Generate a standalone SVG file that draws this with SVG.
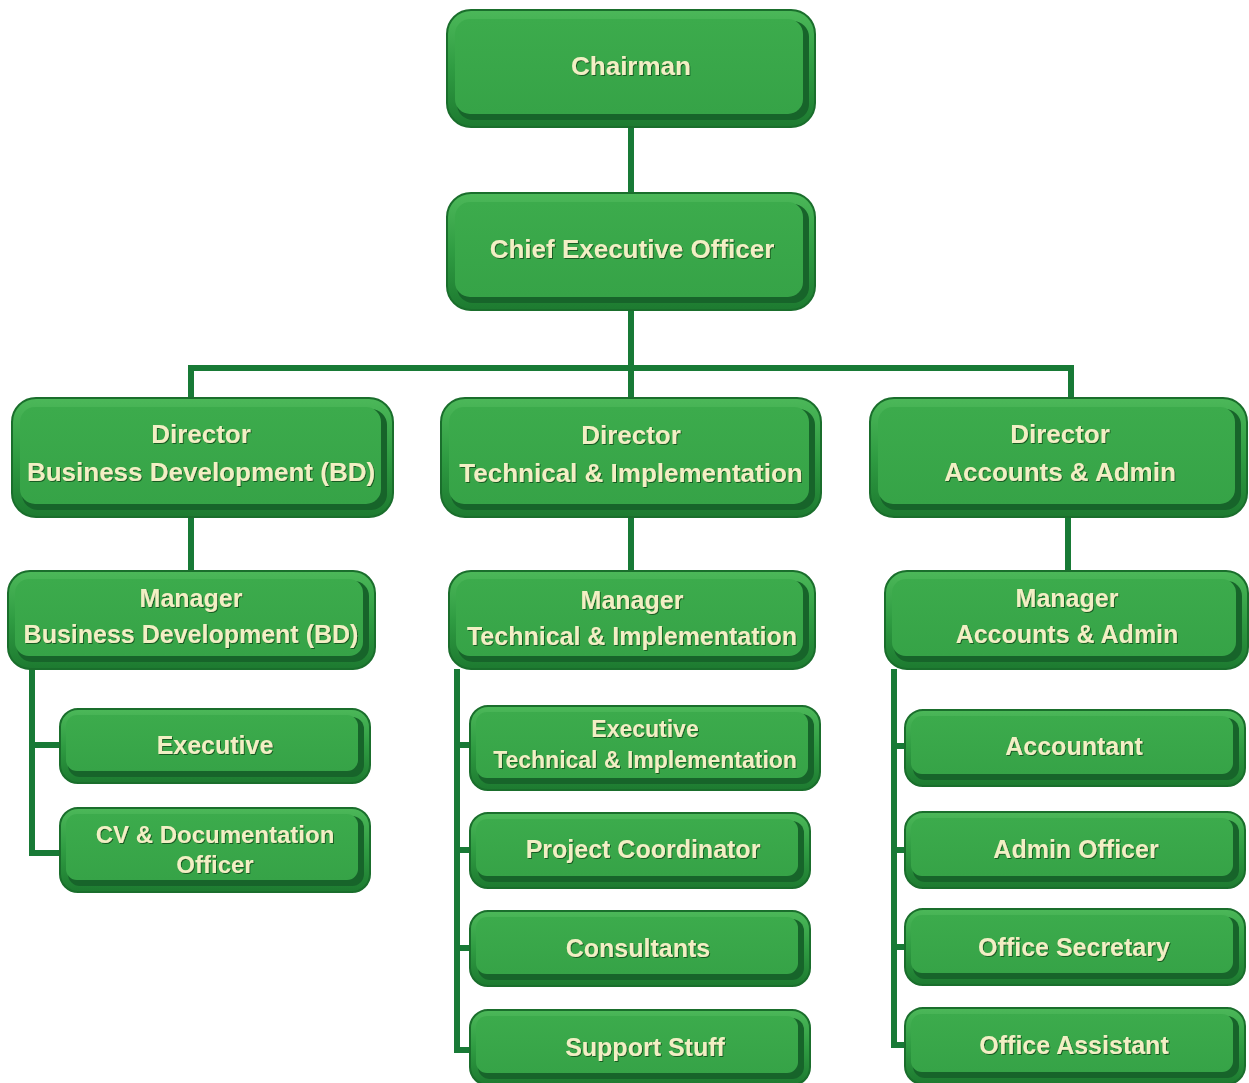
<svg xmlns="http://www.w3.org/2000/svg" width="1249" height="1083" viewBox="0 0 1249 1083">
<defs>
<linearGradient id="rim" x1="0" y1="0" x2="0" y2="1">
<stop offset="0" stop-color="#4cb859"/>
<stop offset="0.5" stop-color="#2f9c42"/>
<stop offset="1" stop-color="#1d7a30"/>
</linearGradient>
<linearGradient id="face" x1="0" y1="0" x2="0" y2="1">
<stop offset="0" stop-color="#3cab4c"/>
<stop offset="1" stop-color="#36a347"/>
</linearGradient>
<filter id="ts" x="-10%" y="-30%" width="120%" height="160%">
<feDropShadow dx="1" dy="1" stdDeviation="0.6" flood-color="#0d4a1a" flood-opacity="0.8"/>
</filter>
</defs>
<style>
.o{fill:url(#rim);stroke:#1a6e2c;stroke-width:2}
.s{fill:#17642a}
.f{fill:url(#face)}
.t{font-family:"Liberation Sans",Arial,sans-serif;font-weight:bold;fill:#f2efc4;text-anchor:middle;filter:url(#ts)}
.c{fill:none;stroke:#187a36;stroke-width:6;stroke-linejoin:miter}
</style>
<rect width="1249" height="1083" fill="#ffffff"/>
<g id="connectors">
<path class="c" d="M631 127V193M631 310V400M191 400V368H1071V400M191 517V573M631 517V573M1068 517V573"/>
<path class="c" d="M32 669V853H62M32 745H62"/>
<path class="c" d="M457 669V1050H472M457 745H472M457 850H472M457 948H472"/>
<path class="c" d="M894 669V1045H907M894 746H907M894 850H907M894 947H907"/>
</g>
<g id="chairman">
<rect class="o" x="447" y="10" width="368" height="117" rx="24"/>
<rect class="s" x="457" y="21" width="352" height="99" rx="16"/>
<rect class="f" x="455" y="19" width="348" height="95" rx="15"/>
<text class="t" x="631" y="75" font-size="26">Chairman</text>
</g>
<g id="ceo">
<rect class="o" x="447" y="193" width="368" height="117" rx="24"/>
<rect class="s" x="457" y="204" width="352" height="99" rx="16"/>
<rect class="f" x="455" y="202" width="348" height="95" rx="15"/>
<text class="t" x="632" y="258" font-size="26">Chief Executive Officer</text>
</g>
<g id="dir-bd">
<rect class="o" x="12" y="398" width="381" height="119" rx="24"/>
<rect class="s" x="22" y="409" width="365" height="101" rx="16"/>
<rect class="f" x="20" y="407" width="361" height="97" rx="15"/>
<text class="t" x="201" y="443" font-size="26">Director</text>
<text class="t" x="201" y="481" font-size="26">Business Development (BD)</text>
</g>
<g id="dir-tech">
<rect class="o" x="441" y="398" width="380" height="119" rx="24"/>
<rect class="s" x="451" y="409" width="364" height="101" rx="16"/>
<rect class="f" x="449" y="407" width="360" height="97" rx="15"/>
<text class="t" x="631" y="444" font-size="26">Director</text>
<text class="t" x="631" y="482" font-size="26">Technical &amp; Implementation</text>
</g>
<g id="dir-acc">
<rect class="o" x="870" y="398" width="377" height="119" rx="24"/>
<rect class="s" x="880" y="409" width="361" height="101" rx="16"/>
<rect class="f" x="878" y="407" width="357" height="97" rx="15"/>
<text class="t" x="1060" y="443" font-size="26">Director</text>
<text class="t" x="1060" y="481" font-size="26">Accounts &amp; Admin</text>
</g>
<g id="mgr-bd">
<rect class="o" x="8" y="571" width="367" height="98" rx="22"/>
<rect class="s" x="17" y="581" width="352" height="81" rx="15"/>
<rect class="f" x="15" y="579" width="348" height="77" rx="14"/>
<text class="t" x="191" y="607" font-size="25">Manager</text>
<text class="t" x="191" y="643" font-size="25">Business Development (BD)</text>
</g>
<g id="mgr-tech">
<rect class="o" x="449" y="571" width="366" height="98" rx="22"/>
<rect class="s" x="458" y="581" width="351" height="81" rx="15"/>
<rect class="f" x="456" y="579" width="347" height="77" rx="14"/>
<text class="t" x="632" y="609" font-size="25">Manager</text>
<text class="t" x="632" y="645" font-size="25">Technical &amp; Implementation</text>
</g>
<g id="mgr-acc">
<rect class="o" x="885" y="571" width="363" height="98" rx="22"/>
<rect class="s" x="894" y="581" width="348" height="81" rx="15"/>
<rect class="f" x="892" y="579" width="344" height="77" rx="14"/>
<text class="t" x="1067" y="607" font-size="25">Manager</text>
<text class="t" x="1067" y="643" font-size="25">Accounts &amp; Admin</text>
</g>
<g id="executive">
<rect class="o" x="60" y="709" width="310" height="74" rx="18"/>
<rect class="s" x="68" y="717" width="296" height="60" rx="12"/>
<rect class="f" x="66" y="715" width="292" height="56" rx="11"/>
<text class="t" x="215" y="754" font-size="25">Executive</text>
</g>
<g id="cv-officer">
<rect class="o" x="60" y="808" width="310" height="84" rx="18"/>
<rect class="s" x="68" y="816" width="296" height="70" rx="12"/>
<rect class="f" x="66" y="814" width="292" height="66" rx="11"/>
<text class="t" x="215" y="843" font-size="24">CV &amp; Documentation</text>
<text class="t" x="215" y="873" font-size="24">Officer</text>
</g>
<g id="exec-tech">
<rect class="o" x="470" y="706" width="350" height="84" rx="18"/>
<rect class="s" x="478" y="714" width="336" height="70" rx="12"/>
<rect class="f" x="476" y="712" width="332" height="66" rx="11"/>
<text class="t" x="645" y="737" font-size="23">Executive</text>
<text class="t" x="645" y="768" font-size="23">Technical &amp; Implementation</text>
</g>
<g id="project-coordinator">
<rect class="o" x="470" y="813" width="340" height="75" rx="18"/>
<rect class="s" x="478" y="821" width="326" height="61" rx="12"/>
<rect class="f" x="476" y="819" width="322" height="57" rx="11"/>
<text class="t" x="643" y="858" font-size="25">Project Coordinator</text>
</g>
<g id="consultants">
<rect class="o" x="470" y="911" width="340" height="75" rx="18"/>
<rect class="s" x="478" y="919" width="326" height="61" rx="12"/>
<rect class="f" x="476" y="917" width="322" height="57" rx="11"/>
<text class="t" x="638" y="957" font-size="25">Consultants</text>
</g>
<g id="support-stuff">
<rect class="o" x="470" y="1010" width="340" height="75" rx="18"/>
<rect class="s" x="478" y="1018" width="326" height="61" rx="12"/>
<rect class="f" x="476" y="1016" width="322" height="57" rx="11"/>
<text class="t" x="645" y="1056" font-size="25">Support Stuff</text>
</g>
<g id="accountant">
<rect class="o" x="905" y="710" width="340" height="76" rx="18"/>
<rect class="s" x="913" y="718" width="326" height="62" rx="12"/>
<rect class="f" x="911" y="716" width="322" height="58" rx="11"/>
<text class="t" x="1074" y="755" font-size="25">Accountant</text>
</g>
<g id="admin-officer">
<rect class="o" x="905" y="812" width="340" height="76" rx="18"/>
<rect class="s" x="913" y="820" width="326" height="62" rx="12"/>
<rect class="f" x="911" y="818" width="322" height="58" rx="11"/>
<text class="t" x="1076" y="858" font-size="25">Admin Officer</text>
</g>
<g id="office-secretary">
<rect class="o" x="905" y="909" width="340" height="76" rx="18"/>
<rect class="s" x="913" y="917" width="326" height="62" rx="12"/>
<rect class="f" x="911" y="915" width="322" height="58" rx="11"/>
<text class="t" x="1074" y="956" font-size="25">Office Secretary</text>
</g>
<g id="office-assistant">
<rect class="o" x="905" y="1008" width="340" height="76" rx="18"/>
<rect class="s" x="913" y="1016" width="326" height="62" rx="12"/>
<rect class="f" x="911" y="1014" width="322" height="58" rx="11"/>
<text class="t" x="1074" y="1054" font-size="25">Office Assistant</text>
</g>
</svg>
